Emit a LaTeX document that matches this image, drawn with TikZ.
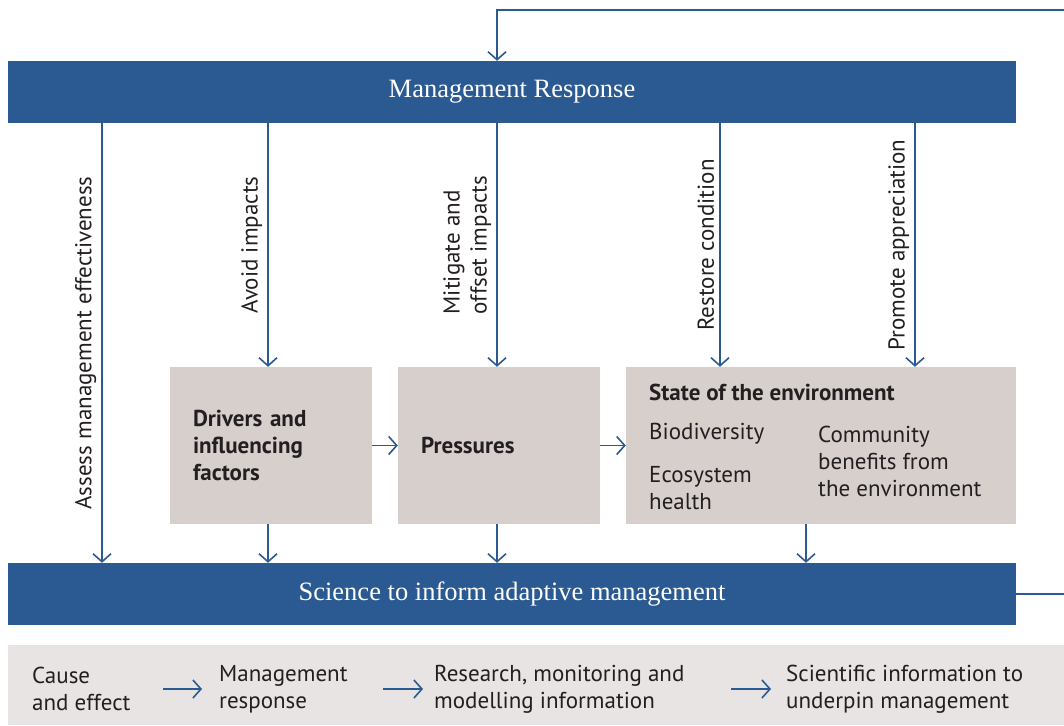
\documentclass[tikz,border=0pt]{standalone}
\usepackage{fontspec}
\setmainfont{Liberation Serif}
\setsansfont{PT Sans}
\usepackage{xcolor}
\usetikzlibrary{arrows.meta,positioning}
\definecolor{bandblue}{HTML}{2A5A91}
\definecolor{boxgray}{HTML}{D7CFCC}
\definecolor{keygray}{HTML}{E8E4E3}
\definecolor{inktext}{HTML}{231F20}

\begin{document}
\begin{tikzpicture}[x=1pt,y=-1pt]

\tikzset{band/.style = {fill=bandblue,text=white,minimum width=1008pt,minimum height=62pt,inner sep=0pt,font=\fontsize{26.5}{30}\selectfont}}
\tikzset{stagebox/.style = {fill=boxgray,text=inktext,minimum height=157pt,inner sep=0pt,font=\sffamily\bfseries\fontsize{23}{27}\selectfont}}
\tikzset{edge/.style = {draw=bandblue,line width=1.6pt,-{Straight Barb[length=8pt,width=18pt,line width=1.6pt]}}}
\tikzset{vlabel/.style = {rotate=90,anchor=south,inner sep=5pt,text=inktext,font=\sffamily\fontsize{23}{27}\selectfont}}
\tikzset{plain/.style = {anchor=west,inner sep=0pt,align=left,text=inktext,font=\sffamily\fontsize{23}{27}\selectfont}}

\clip (0,0) rectangle (1064,725);
\fill[white] (0,0) rectangle (1064,725);

% bands
\node[band] (mr) at (512,92) {Management Response};
\node[band] (sci) at (512,594) {Science to inform adaptive management};

% stages
\node[stagebox,minimum width=202pt,text width=156pt,align=left] (drv) at (271,445.5) {Drivers and\\influencing\\factors};
\node[stagebox,minimum width=202pt,text width=156pt,align=left] (prs) at (499,445.5) {Pressures};
\node[stagebox,minimum width=390pt] (st) at (821,445.5) {};

% state of the environment
\node[plain,font=\sffamily\bfseries\fontsize{23}{27}\selectfont] (sttitle) at (649,392) {State of the environment};
\node[plain] (bio) at (649,434) {Biodiversity};
\node[plain] (eco) at (649,488) {Ecosystem\\health};
\node[plain] (comm) at (818,461) {Community\\benefits from\\the environment};

% key
\node[fill=keygray,minimum width=1070pt,minimum height=80pt,inner sep=0pt] (key) at (543,685) {};
\node[plain] (cause) at (32,689) {Cause\\and effect};
\node[plain] (resp) at (219,689) {Management\\response};
\node[plain] (rmm) at (434,689) {Research, monitoring and\\modelling information};
\node[plain] (sinfo) at (786,689) {Scientific information to\\underpin management};

% feedback loop
\coordinate (loop) at (1090,10);
\draw[edge] (sci.east) -| (loop) -| ([xshift=-15pt]mr.north);

%edges
\draw[edge] ([xshift=-410pt]mr.south) -- node[vlabel] {Assess management effectiveness} ([xshift=-410pt]sci.north);
\draw[edge] (mr.south -| 268,0) -- node[vlabel] {Avoid impacts} ([xshift=-3pt]drv.north);
\draw[edge] (mr.south -| 497,0) -- node[vlabel,align=left] {Mitigate and\\offset impacts} ([xshift=-2pt]prs.north);
\draw[edge] (mr.south -| 720,0) -- node[vlabel] {Restore condition} ([xshift=-101pt]st.north);
\draw[edge] (mr.south -| 915,0) -- node[vlabel] {Promote appreciation} ([xshift=94pt]st.north);

\draw[edge] ([xshift=-3pt]drv.south) -- (sci.north -| 268,0);
\draw[edge] ([xshift=-2pt]prs.south) -- (sci.north -| 497,0);
\draw[edge] ([xshift=-15pt]st.south) -- (sci.north -| 806,0);

\draw[edge] (drv) -- (prs);
\draw[edge] (prs) -- (st);

\draw[edge] (cause.east -| 163,0) -- ([xshift=-17pt]resp.west);
\draw[edge] (resp.east -| 383,0) -- ([xshift=-11pt]rmm.west);
\draw[edge] (rmm.east -| 731,0) -- ([xshift=-15pt]sinfo.west);
\end{tikzpicture}
\end{document}
